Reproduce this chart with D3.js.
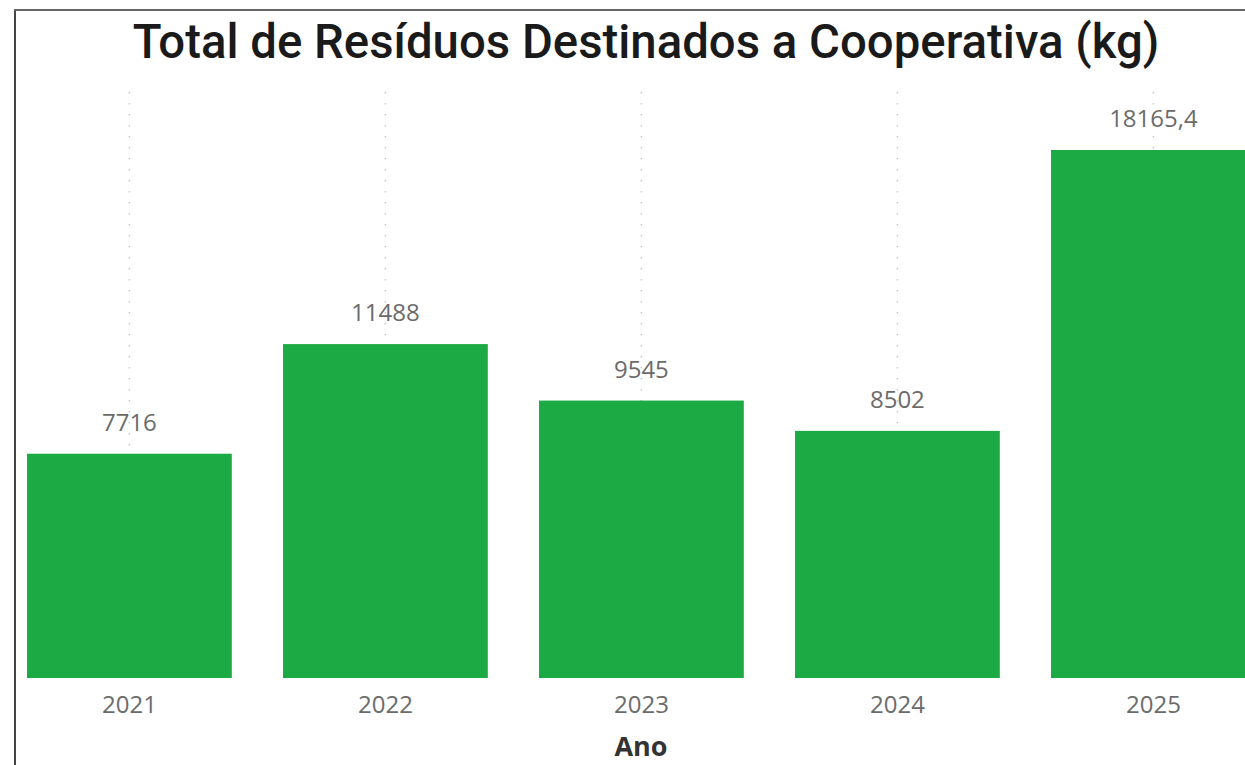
<!DOCTYPE html>
<html><head><meta charset="utf-8">
<script src="https://cdn.jsdelivr.net/npm/d3@7"></script>
<style>body{margin:0;background:#fff;overflow:hidden}</style>
</head><body>
<svg id="c" width="1245" height="765"></svg>
<script>
const title = "Total de Resíduos Destinados a Cooperativa (kg)";
const categories = ["2021", "2022", "2023", "2024", "2025"];
const values = [7716, 11488, 9545, 8502, 18165.4];
const xAxisTitle = "Ano";

const svg = d3.select("#c");
const W = 1245, H = 765;
const pt = d3.formatLocale({decimal: ",", thousands: "", grouping: [3], currency: ["R$", ""]});
const fmt = v => Number.isInteger(v) ? pt.format("d")(v) : pt.format(".1f")(v);

// frame
svg.append("line").attr("x1", 15).attr("x2", 15).attr("y1", 10).attr("y2", H)
  .attr("stroke", "#444").attr("stroke-width", 2);
svg.append("line").attr("x1", 14).attr("x2", W).attr("y1", 10).attr("y2", 10)
  .attr("stroke", "#666").attr("stroke-width", 2);

const x = d3.scaleBand().domain(categories)
  .range([27 - 25.6, 27 - 25.6 + 5 * 256]).paddingInner(0.2).paddingOuter(0.1);
const y = d3.scaleLinear().domain([0, d3.max(values)]).range([678, 150]);

// gridlines
svg.append("g").selectAll("line").data(categories).join("line")
  .attr("x1", d => x(d) + x.bandwidth()/2).attr("x2", d => x(d) + x.bandwidth()/2)
  .attr("y1", 92).attr("y2", 678)
  .attr("stroke", "#c8c8c8").attr("stroke-width", 1.5).attr("stroke-dasharray", "1.5,9.5");

// bars
svg.append("g").selectAll("rect").data(values).join("rect")
  .attr("x", (d, i) => x(categories[i])).attr("width", x.bandwidth())
  .attr("y", d => y(d)).attr("height", d => y(0) - y(d))
  .attr("fill", "#1CAA44");

// value labels
svg.append("g").selectAll("text").data(values).join("text")
  .attr("x", (d, i) => x(categories[i]) + x.bandwidth()/2)
  .attr("y", d => y(d) - 23)
  .attr("text-anchor", "middle")
  .attr("font-family", "'Open Sans', sans-serif").attr("font-size", 24)
  .attr("fill", "#6b6b6b").text(d => fmt(d));

// x axis
const xa = svg.append("g").attr("transform", "translate(0,678)")
  .call(d3.axisBottom(x).tickSize(0).tickPadding(18));
xa.select(".domain").remove();
xa.selectAll("text").attr("font-family", "'Open Sans', sans-serif").attr("font-size", 24)
  .attr("fill", "#6b6b6b").attr("dy", "0.71em");

svg.append("text").attr("x", 641).attr("y", 756).attr("text-anchor", "middle")
  .attr("font-family", "'Open Sans', sans-serif").attr("font-weight", "bold").attr("font-size", 27)
  .attr("fill", "#333").text(xAxisTitle);

// title
const t = svg.append("text").attr("x", 646).attr("y", 58).attr("text-anchor", "middle")
  .attr("font-family", "Roboto, sans-serif").attr("font-weight", 500).attr("font-size", 46)
  .attr("fill", "#1a1a1a").text(title);
const len = t.node().getComputedTextLength();
t.attr("font-size", 46 * 1027 / len);
</script>
</body></html>
